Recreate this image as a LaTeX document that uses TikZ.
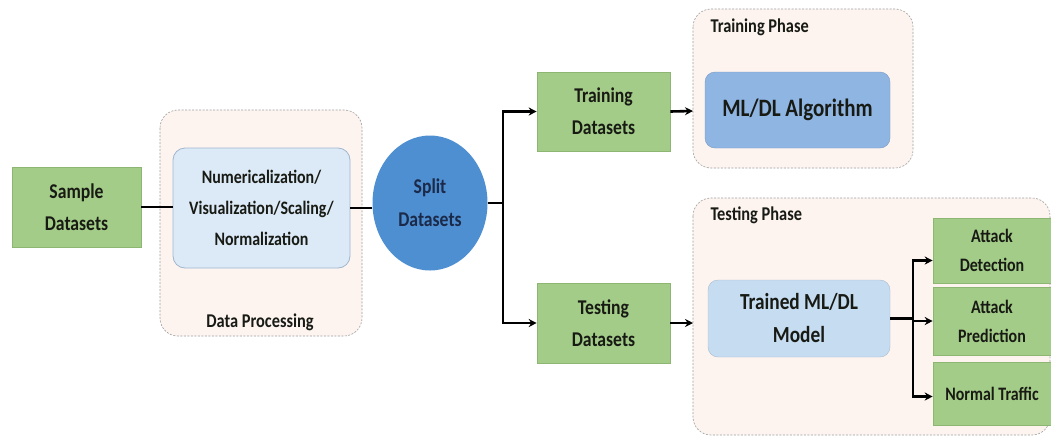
\documentclass[tikz,border=0pt]{standalone}
\usepackage{fontspec}
\setmainfont{Carlito}[FakeStretch=0.84]
\usetikzlibrary{arrows.meta,shapes.geometric}
\definecolor{greenfill}{HTML}{A3CC88}
\definecolor{greenline}{HTML}{8DB673}
\definecolor{lightblue}{HTML}{DCE9F6}
\definecolor{lightblueline}{HTML}{9FB6CE}
\definecolor{midblue}{HTML}{8FB5E3}
\definecolor{trainedblue}{HTML}{C6DCF1}
\definecolor{circleblue}{HTML}{4E8FD2}
\definecolor{phasefill}{HTML}{FDF4F0}
\definecolor{txt}{HTML}{181A14}
\definecolor{navy}{HTML}{1B2A48}
\tikzset{
  x=1pt, y=-1pt,
  greenbox/.style={draw=greenline, line width=0.6pt, fill=greenfill, align=center, text=txt, font=\bfseries\fontsize{21}{32}\selectfont, inner sep=2pt},
  outbox/.style={greenbox, minimum width=118pt, font=\bfseries\fontsize{19}{29}\selectfont},
  phasebox/.style={draw=gray!75, dash pattern=on 2pt off 1.5pt, line width=0.6pt, fill=phasefill, rounded corners=18pt},
  conn/.style={line width=2.6pt, draw=black},
  arr/.style={conn, -{Stealth[length=8pt,width=8pt]}},
  lbl/.style={text=txt, font=\bfseries\fontsize{19.5}{22}\selectfont}
}
\begin{document}
\begin{tikzpicture}
\useasboundingbox[fill=white] (0,0) rectangle (1051,437);
% phase / group boxes
\draw[phasebox] (160,110) rectangle (362,336);
\node[lbl] (dplabel) at (260,322) {Data Processing};
\draw[phasebox] (693,9) rectangle (913,168);
\coordinate (tpwest) at (693,111);
\node[lbl, anchor=west] (tplabel) at (707,27) {Training Phase};
\draw[phasebox] (693,198) rectangle (1050,435);
\coordinate (tswest) at (693,323);
\node[lbl, anchor=west] (tslabel) at (707,215) {Testing Phase};
% nodes
\node[greenbox, minimum width=129pt, minimum height=80pt] (sample) at (76.5,207) {Sample\\Datasets};
\node[draw=lightblueline, line width=0.8pt, fill=lightblue, rounded corners=12pt, minimum width=177pt, minimum height=120pt, align=center, text=txt, font=\bfseries\fontsize{19}{31}\selectfont] (proc) at (261.5,208) {Numericalization/\\Visualization/Scaling/\\Normalization};
\node[ellipse, fill=circleblue, minimum width=115pt, minimum height=135pt, inner sep=0pt, align=center, text=navy, font=\bfseries\fontsize{21}{33}\selectfont] (split) at (430,203) {Split\\Datasets};
\node[greenbox, minimum width=133pt, minimum height=79pt] (trainds) at (603.5,111.5) {Training\\Datasets};
\node[greenbox, minimum width=133pt, minimum height=80pt] (testds) at (603.5,323) {Testing\\Datasets};
\node[fill=midblue, draw=midblue!85!black, line width=0.4pt, rounded corners=10pt, minimum width=185pt, minimum height=76pt, text=txt, font=\bfseries\fontsize{25}{28}\selectfont] (algo) at (797.5,110) {ML/DL Algorithm};
\node[fill=trainedblue, draw=trainedblue!85!black, line width=0.4pt, rounded corners=10pt, minimum width=182pt, minimum height=77pt, align=center, text=txt, font=\bfseries\fontsize{23}{33}\selectfont] (trained) at (799,318.5) {Trained ML/DL\\Model};
\node[outbox, minimum height=65pt] (detect) at (992,250.5) {Attack\\Detection};
\node[outbox, minimum height=68pt] (predict) at (992,321) {Attack\\Prediction};
\node[outbox, minimum height=63pt] (normal) at (992,393.5) {Normal Traffic};
% connectors
\draw[conn] (sample.east) -- (proc.west |- sample.east);
\draw[conn] (proc.east) -- (proc.east -| split.west);
\coordinate (j1) at (503,203);
\draw[conn] (split.east) -- (j1);
\draw[arr] (j1) |- (trainds.west);
\draw[arr] (j1) |- (testds.west);
\draw[arr] (trainds.east) -- (tpwest);
\draw[arr] (testds.east) -- (tswest);
\coordinate (j2) at (913,318.5);
\draw[conn] (trained.east) -- (j2);
\draw[arr] (j2) |- ([yshift=-10pt]detect.west);
\draw[arr] (j2) |- (predict.west);
\draw[arr] (j2) |- ([yshift=-3pt]normal.west);
\end{tikzpicture}
\end{document}
